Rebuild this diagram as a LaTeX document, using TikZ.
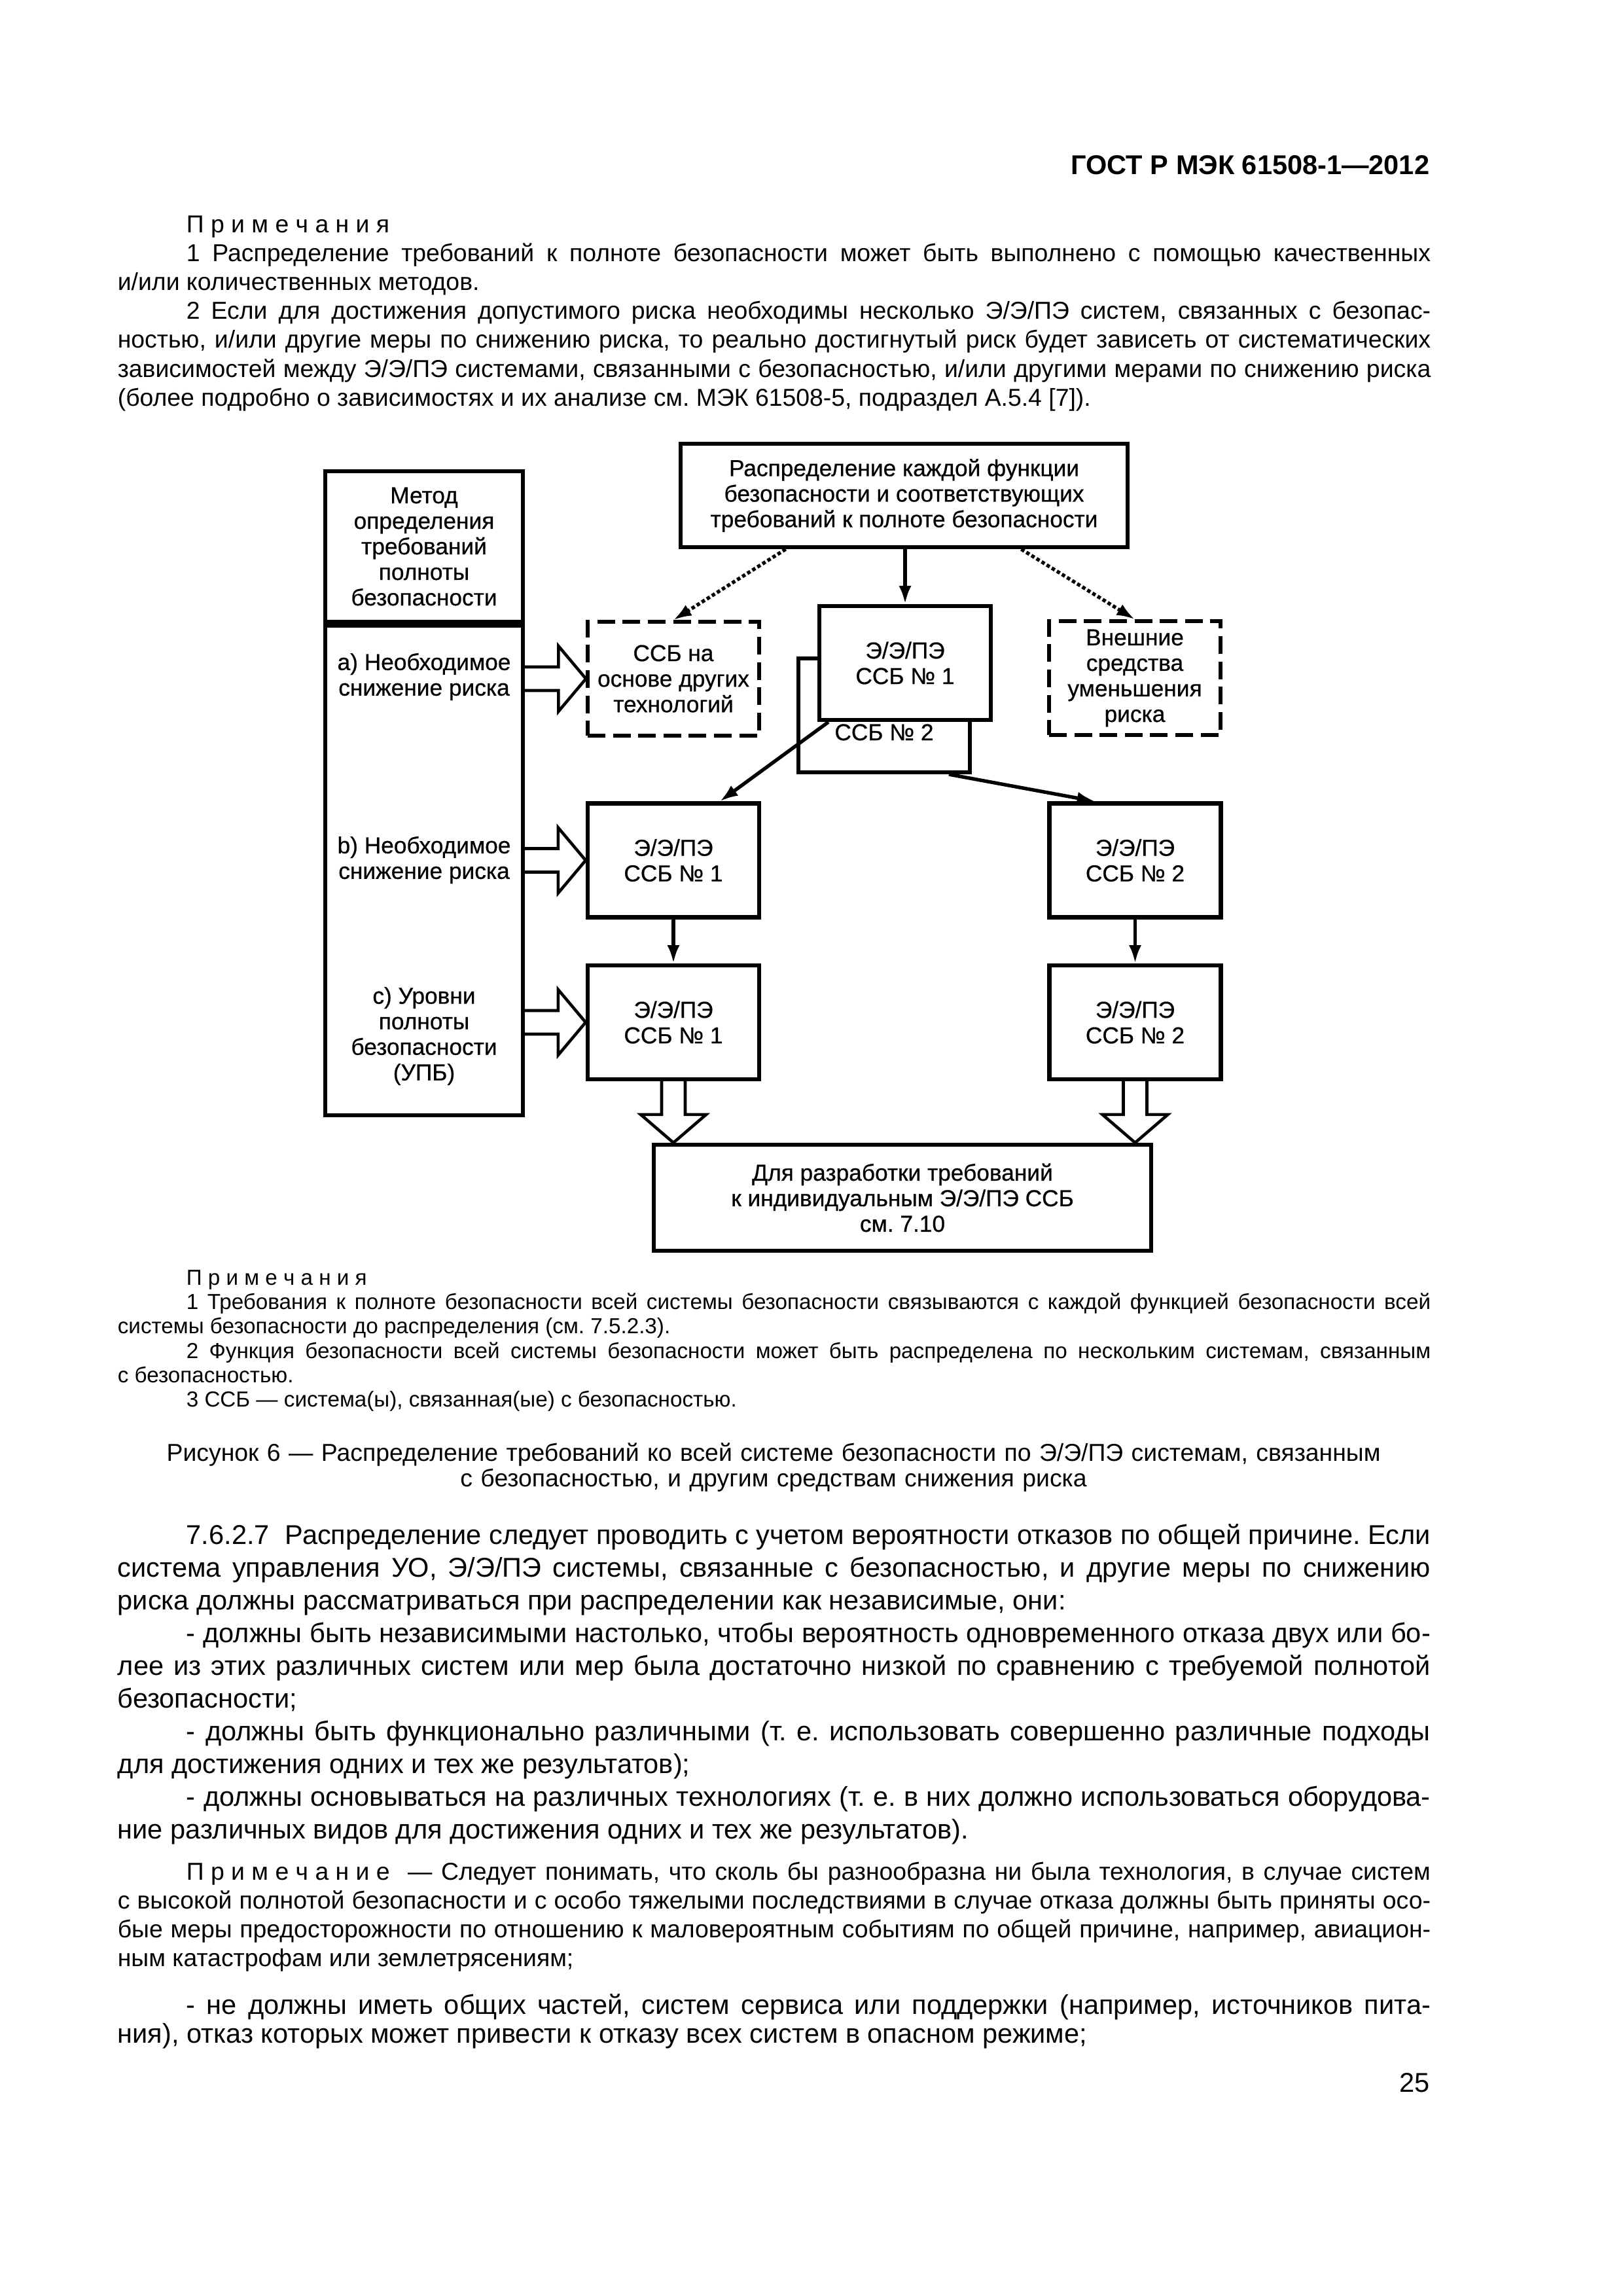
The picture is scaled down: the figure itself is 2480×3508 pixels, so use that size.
\documentclass[tikz,border=0pt]{standalone}
\usepackage{fontspec}
\setmainfont{Liberation Sans}
\newfontfamily\diagfont[FakeBold=0.6]{Liberation Sans}
\usetikzlibrary{arrows.meta, positioning, calc}
\frenchspacing

\newlength{\tw}
\setlength{\tw}{483.3pt}
\newcommand{\jl}[1]{\makebox[\tw][s]{#1}\\}
\newcommand{\ind}{\hspace*{25.3pt}}
\def\pxl{0.2409pt}

\tikzset{
  box/.style={draw, line width=1.5pt, fill=white, align=center, inner sep=0pt,
    font=\diagfont\fontsize{8.5}{9.4}\selectfont},
  sysbox/.style={box, minimum width=262*\pxl, minimum height=174*\pxl},
  dashbox/.style={sysbox, line width=1.3pt, dash pattern=on 6.5pt off 2.8pt},
  lbl/.style={align=center, inner sep=0pt, font=\diagfont\fontsize{8.5}{9.4}\selectfont},
  arr/.style={line width=1.3pt, -{Latex[length=6.7pt, width=4.6pt]}},
  dotarr/.style={arr, dash pattern=on 1.3pt off 0.9pt},
  rblock/.style={line width=1.1pt, line join=miter,
    to path={($(\tikztostart)+(0,-18)$) -- ($(\tikztotarget)+(-42,-18)$)
      -- ($(\tikztotarget)+(-42,-50)$) -- (\tikztotarget) -- ($(\tikztotarget)+(-42,50)$)
      -- ($(\tikztotarget)+(-42,18)$) -- ($(\tikztostart)+(0,18)$)}},
  dblock/.style={line width=1.1pt, line join=miter,
    to path={($(\tikztostart)+(-18,0)$) -- ($(\tikztotarget)+(-18,-43)$)
      -- ($(\tikztotarget)+(-50,-43)$) -- (\tikztotarget) -- ($(\tikztotarget)+(50,-43)$)
      -- ($(\tikztotarget)+(18,-43)$) -- ($(\tikztostart)+(18,0)$)}},
  txt/.style={anchor=base west, inner sep=0pt, text width=\tw, align=justify},
}

\begin{document}
\begin{tikzpicture}[x=0.2409pt, y=-0.2409pt]
  \fill[white] (0,0) rectangle (2480,3508);

  % page head
  \node[anchor=base east, inner sep=0pt, font=\bfseries\fontsize{10}{12}\selectfont] (gost) at (2185,266) {ГОСТ Р МЭК 61508-1—2012};

  \node[txt, font=\fontsize{9}{10.65}\selectfont] (notesTop) at (179,355) {%
    \ind П р и м е ч а н и я\\
    \jl{\ind 1 Распределение требований к полноте безопасности может быть выполнено с помощью качественных}
    и/или количественных методов.\\
    \jl{\ind 2 Если для достижения допустимого риска необходимы несколько Э/Э/ПЭ систем, связанных с безопас-}
    \jl{ностью, и/или другие меры по снижению риска, то реально достигнутый риск будет зависеть от систематических}
    \jl{зависимостей между Э/Э/ПЭ системами, связанными с безопасностью, и/или другими мерами по снижению риска}
    (более подробно о зависимостях и их анализе см. МЭК 61508-5, подраздел А.5.4 [7]).};

  % figure 6
  \node[box, minimum width=302*\pxl, minimum height=230*\pxl] (methodTop) at (648,835)
    {Метод\\определения\\требований\\полноты\\безопасности};
  \node[box, minimum width=302*\pxl, minimum height=748*\pxl, below=0pt of methodTop] (methodLow) {};
  \node[lbl] (reqA) at (648,1034) {a) Необходимое\\снижение риска};
  \node[lbl] (reqB) at (648,1314) {b) Необходимое\\снижение риска};
  \node[lbl] (reqC) at (648,1583) {c) Уровни\\полноты\\безопасности\\(УПБ)};

  \node[box, minimum width=683*\pxl, minimum height=158*\pxl] (alloc) at (1381.5,757)
    {Распределение каждой функции\\безопасности и соответствующих\\требований к полноте безопасности};
  \node[dashbox] (ssbOther) at (1029,1037) {ССБ на\\основе других\\технологий};
  \node[dashbox] (extMeans) at (1734,1036) {Внешние\\средства\\уменьшения\\риска};
  \node[sysbox] (ssbTwoBack) at (1351,1093) {};
  \node[lbl, anchor=base] (ssbTwoLbl) at (1351,1131) {ССБ № 2};
  \node[sysbox] (ssbOneTop) at (1383,1013) {Э/Э/ПЭ\\ССБ № 1};

  \node[sysbox] (ssbOneB) at (1029,1314.5) {Э/Э/ПЭ\\ССБ № 1};
  \node[sysbox] (ssbTwoB) at (1734.5,1314.5) {Э/Э/ПЭ\\ССБ № 2};
  \node[sysbox] (ssbOneC) at (1029,1562) {Э/Э/ПЭ\\ССБ № 1};
  \node[sysbox] (ssbTwoC) at (1734.5,1562) {Э/Э/ПЭ\\ССБ № 2};
  \node[box, minimum width=760*\pxl, minimum height=162*\pxl] (design) at (1379,1830)
    {Для разработки требований\\к индивидуальным Э/Э/ПЭ ССБ\\см. 7.10};

  \draw[arr] (alloc.south -| ssbOneTop.north) -- (ssbOneTop.north);
  \draw[dotarr] ($(alloc.south)+(-181,0)$) -- (ssbOther.north);
  \draw[dotarr] ($(alloc.south)+(179,0)$) -- (extMeans.north);
  \draw[arr] ($(ssbOneTop.south west)+(17,0)$) -- ($(ssbOneB.north)+(71,0)$);
  \draw[arr] ($(ssbTwoBack.south)+(99,0)$) -- ($(ssbTwoB.north)+(-61,0)$);
  \draw[arr] (ssbOneB.south) -- (ssbOneC.north);
  \draw[arr] (ssbTwoB.south) -- (ssbTwoC.north);

  \coordinate (aS) at (methodLow.east |- ssbOther.west);
  \coordinate (bS) at (methodLow.east |- ssbOneB.west);
  \coordinate (cS) at (methodLow.east |- ssbOneC.west);
  \draw[rblock] (aS) to (ssbOther.west);
  \draw[rblock] (bS) to (ssbOneB.west);
  \draw[rblock] (cS) to (ssbOneC.west);
  \coordinate (tipL) at (ssbOneC.south |- design.north);
  \coordinate (tipR) at (ssbTwoC.south |- design.north);
  \draw[dblock] (ssbOneC.south) to (tipL);
  \draw[dblock] (ssbTwoC.south) to (tipR);

  \node[txt, font=\fontsize{8}{9}\selectfont] (notesFig) at (179,1963) {%
    \ind П р и м е ч а н и я\\
    \jl{\ind 1 Требования к полноте безопасности всей системы безопасности связываются с каждой функцией безопасности всей}
    системы безопасности до распределения (см. 7.5.2.3).\\
    \jl{\ind 2 Функция безопасности всей системы безопасности может быть распределена по нескольким системам, связанным}
    с безопасностью.\\
    \ind 3 ССБ — система(ы), связанная(ые) с безопасностью.};

  \node[anchor=base, inner sep=0pt, text width=\tw, align=center, font=\fontsize{9}{9.5}\selectfont] (caption) at (1182,2232)
    {Рисунок 6 — Распределение требований ко всей системе безопасности по Э/Э/ПЭ системам, связанным\\
     с безопасностью, и другим средствам снижения риска};

  \node[txt, font=\fontsize{10}{12.07}\selectfont] (paraMain) at (179,2359) {%
    \jl{\ind 7.6.2.7\hspace{3pt} Распределение следует проводить с учетом вероятности отказов по общей причине. Если}
    \jl{система управления УО, Э/Э/ПЭ системы, связанные с безопасностью, и другие меры по снижению}
    риска должны рассматриваться при распределении как независимые, они:\\
    \jl{\ind - должны быть независимыми настолько, чтобы вероятность одновременного отказа двух или бо-}
    \jl{лее из этих различных систем или мер была достаточно низкой по сравнению с требуемой полнотой}
    безопасности;\\
    \jl{\ind - должны быть функционально различными (т. е. использовать совершенно различные подходы}
    для достижения одних и тех же результатов);\\
    \jl{\ind - должны основываться на различных технологиях (т. е. в них должно использоваться оборудова-}
    ние различных видов для достижения одних и тех же результатов).};

  \node[txt, font=\fontsize{9}{10.6}\selectfont] (notesMid) at (179,2872) {%
    \jl{\ind \mbox{П р и м е ч а н и е}\ \ — Следует понимать, что сколь бы разнообразна ни была технология, в случае систем}
    \jl{с высокой полнотой безопасности и с особо тяжелыми последствиями в случае отказа должны быть приняты осо-}
    \jl{бые меры предосторожности по отношению к маловероятным событиям по общей причине, например, авиацион-}
    ным катастрофам или землетрясениям;};

  \node[txt, font=\fontsize{10}{10.8}\selectfont] (paraLast) at (179,3077) {%
    \jl{\ind - не должны иметь общих частей, систем сервиса или поддержки (например, источников пита-}
    ния), отказ которых может привести к отказу всех систем в опасном режиме;};

  \node[anchor=base east, inner sep=0pt, font=\fontsize{10}{12}\selectfont] (pageNum) at (2185,3196) {25};
\end{tikzpicture}
\end{document}
